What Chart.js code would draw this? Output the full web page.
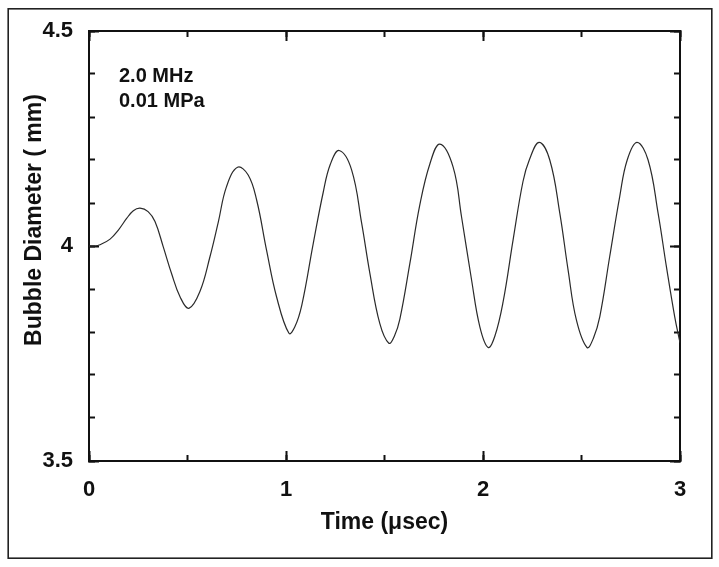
<!DOCTYPE html>
<html>
<head>
<meta charset="utf-8">
<script src="https://cdn.jsdelivr.net/npm/chart.js@4/dist/chart.umd.min.js"></script>
<style>
  html, body { margin: 0; padding: 0; background: #fff; }
  #wrap { position: relative; width: 719px; height: 567px; }
</style>
</head>
<body>
<div id="wrap"><canvas id="c" width="719" height="567"></canvas></div>
<script>
// ---- Data ----
const timeUs = [
  0.000, 0.030, 0.056, 0.107, 0.149, 0.191, 0.225, 0.259, 0.300, 0.335,
  0.377, 0.419, 0.462, 0.507, 0.563, 0.614, 0.656, 0.698, 0.754, 0.808,
  0.851, 0.901, 0.952, 1.015, 1.045, 1.080, 1.138, 1.189, 1.225, 1.270,
  1.333, 1.384, 1.426, 1.476, 1.522, 1.550, 1.578, 1.629, 1.679, 1.731,
  1.781, 1.848, 1.891, 1.942, 1.984, 2.026, 2.060, 2.102, 2.153, 2.203,
  2.235, 2.285, 2.339, 2.390, 2.432, 2.474, 2.528, 2.560, 2.593, 2.643,
  2.694, 2.732, 2.782, 2.838, 2.889, 2.931, 2.973, 3.000
];
const diameterMm = [
  4.000, 4.000, 4.003, 4.016, 4.037, 4.064, 4.082, 4.088, 4.080, 4.057,
  3.998, 3.936, 3.882, 3.855, 3.894, 3.975, 4.055, 4.138, 4.183, 4.165,
  4.107, 3.991, 3.882, 3.797, 3.812, 3.862, 4.005, 4.125, 4.190, 4.222,
  4.177, 4.053, 3.936, 3.820, 3.774, 3.790, 3.830, 3.960, 4.095, 4.192,
  4.237, 4.184, 4.068, 3.921, 3.812, 3.764, 3.790, 3.870, 4.015, 4.150,
  4.200, 4.241, 4.200, 4.076, 3.944, 3.828, 3.764, 3.785, 3.836, 3.975,
  4.115, 4.200, 4.241, 4.200, 4.076, 3.952, 3.836, 3.775
];
const xMajorTicks = [0, 1, 2, 3];
const yMajorTicks = [3.5, 4, 4.5];
const annotationLines = ['2.0 MHz', '0.01 MPa'];
const xTitle = 'Time (\u03bcsec)';
const yTitle = 'Bubble Diameter ( mm)';

// ---- Chart ----
const FONT = '"Liberation Sans", Arial, Helvetica, sans-serif';
const points = timeUs.map((t, i) => ({ x: t, y: diameterMm[i] }));

function fixW(w) { return s => { s.width = w; s.paddingTop = 0; s.paddingBottom = 0; }; }
function fixH(h) { return s => { s.height = h; s.paddingLeft = 0; s.paddingRight = 0; }; }

function axisBase(extra) {
  return Object.assign({
    type: 'linear',
    grid: { drawOnChartArea: false, drawTicks: true, tickLength: -10, tickWidth: 2, tickColor: '#111' },
    border: { display: false },
    ticks: { display: false, autoSkip: false }
  }, extra);
}
const minorGrid = { drawOnChartArea: false, drawTicks: true, tickLength: -6, tickWidth: 2, tickColor: '#111' };

const frameAndText = {
  id: 'frameAndText',
  beforeDraw(chart) {
    const ctx = chart.ctx;
    ctx.save();
    ctx.fillStyle = '#fff';
    ctx.fillRect(0, 0, chart.width, chart.height);
    ctx.strokeStyle = '#222';
    ctx.lineWidth = 1.6;
    ctx.strokeRect(8.2, 8.8, 703.6, 549.4);
    ctx.restore();
  },
  afterDraw(chart) {
    const ctx = chart.ctx;
    const a = chart.chartArea;
    ctx.save();
    ctx.fillStyle = '#111';
    ctx.font = 'bold 20px ' + FONT;
    ctx.textAlign = 'left';
    ctx.textBaseline = 'alphabetic';
    annotationLines.forEach((txt, i) => {
      ctx.fillText(txt, a.left + 30, a.top + 51 + i * 24.5);
    });
    // y-axis title (placed as in the reference, slightly above the axis centre)
    ctx.font = 'bold 23px ' + FONT;
    ctx.textAlign = 'center';
    ctx.textBaseline = 'middle';
    ctx.translate(35, a.top + 189);
    ctx.rotate(-Math.PI / 2);
    ctx.fillText(yTitle, 0, 0);
    ctx.restore();
  }
};

new Chart(document.getElementById('c'), {
  type: 'line',
  data: {
    datasets: [{
      data: points,
      xAxisID: 'x',
      yAxisID: 'y',
      borderColor: '#2a2a2a',
      borderWidth: 1.2,
      pointRadius: 0,
      fill: false,
      tension: 0.4
    }]
  },
  options: {
    responsive: false,
    animation: false,
    devicePixelRatio: 1,
    layout: { padding: 0 },
    plugins: { legend: { display: false }, tooltip: { enabled: false } },
    scales: {
      x: axisBase({
        position: 'bottom', weight: 1, min: 0, max: 3,
        afterFit: fixH(106),
        afterBuildTicks: s => { s.ticks = xMajorTicks.map(v => ({ value: v })); },
        border: { display: true, color: '#111', width: 2 },
        ticks: { display: true, autoSkip: false, padding: 26, color: '#111',
                 font: { family: FONT, size: 22, weight: 'bold' },
                 callback: v => String(v) },
        title: { display: true, text: xTitle, color: '#111',
                 font: { family: FONT, size: 23, weight: 'bold' },
                 padding: { top: 0, bottom: 31 } }
      }),
      xMinor: axisBase({
        position: 'bottom', weight: 0, min: 0, max: 3,
        afterFit: fixH(0),
        ticks: { display: false, autoSkip: false, stepSize: 0.5 },
        grid: minorGrid
      }),
      xTop: axisBase({
        position: 'top', weight: 1, min: 0, max: 3,
        afterFit: fixH(31),
        afterBuildTicks: s => { s.ticks = xMajorTicks.map(v => ({ value: v })); },
        border: { display: true, color: '#111', width: 2 }
      }),
      xTopMinor: axisBase({
        position: 'top', weight: 0, min: 0, max: 3,
        afterFit: fixH(0),
        ticks: { display: false, autoSkip: false, stepSize: 0.5 },
        grid: minorGrid
      }),
      y: axisBase({
        position: 'left', weight: 1, min: 3.5, max: 4.5,
        afterFit: fixW(89),
        afterBuildTicks: s => { s.ticks = yMajorTicks.map(v => ({ value: v })); },
        border: { display: true, color: '#111', width: 2 },
        ticks: { display: true, autoSkip: false, padding: 26, color: '#111',
                 font: { family: FONT, size: 22, weight: 'bold' },
                 callback: v => String(v) }
      }),
      yMinor: axisBase({
        position: 'left', weight: 0, min: 3.5, max: 4.5,
        afterFit: fixW(0),
        ticks: { display: false, autoSkip: false, stepSize: 0.1 },
        grid: minorGrid
      }),
      yRight: axisBase({
        position: 'right', weight: 1, min: 3.5, max: 4.5,
        afterFit: fixW(39),
        afterBuildTicks: s => { s.ticks = yMajorTicks.map(v => ({ value: v })); },
        border: { display: true, color: '#111', width: 2 }
      }),
      yRightMinor: axisBase({
        position: 'right', weight: 0, min: 3.5, max: 4.5,
        afterFit: fixW(0),
        ticks: { display: false, autoSkip: false, stepSize: 0.1 },
        grid: minorGrid
      })
    }
  },
  plugins: [frameAndText]
});
</script>
</body>
</html>
